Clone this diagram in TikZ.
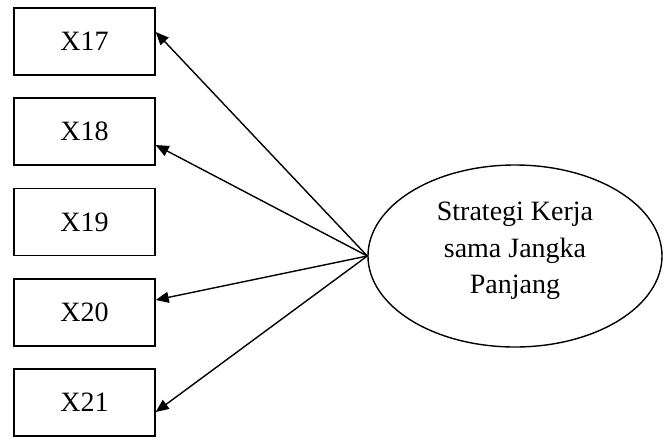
\documentclass[tikz,border=0pt]{standalone}
\usepackage{fontspec}
\setmainfont{Liberation Serif}
\usetikzlibrary{arrows.meta,shapes.geometric}
\begin{document}
\begin{tikzpicture}[x=1pt,y=-1pt,
  txt/.style={font=\fontsize{28}{36.5}\selectfont},
  indicator/.style={draw,line width=1.4pt,minimum width=141pt,minimum height=67pt,inner sep=0pt,txt},
  construct/.style={draw,ellipse,line width=1.4pt,minimum width=294pt,minimum height=182pt,inner sep=0pt},
  loading/.style={line width=1.4pt,-{Triangle[length=13pt,width=11pt]}}]
\useasboundingbox (0,0) rectangle (663,437);
\node[indicator] (x17) at (84.5,41.5) {X17};
\node[indicator] (x18) at (84.5,131.5) {X18};
\node[indicator] (x19) at (84.5,222) {X19};
\node[indicator] (x20) at (84.5,312.5) {X20};
\node[indicator] (x21) at (84.5,402.5) {X21};
\node[construct] (f) at (515,256) {};
\node[txt,align=center,inner sep=0pt] (flabel) at ([yshift=5pt]f.center) {Strategi Kerja\\sama Jangka\\Panjang};
\draw[loading] (f.west) -- ([yshift=9.5pt]x17.east);
\draw[loading] (f.west) -- ([yshift=-13.5pt]x18.east);
\draw[loading] (f.west) -- ([yshift=12.5pt]x20.east);
\draw[loading] (f.west) -- ([yshift=-9.5pt]x21.east);
\end{tikzpicture}
\end{document}
